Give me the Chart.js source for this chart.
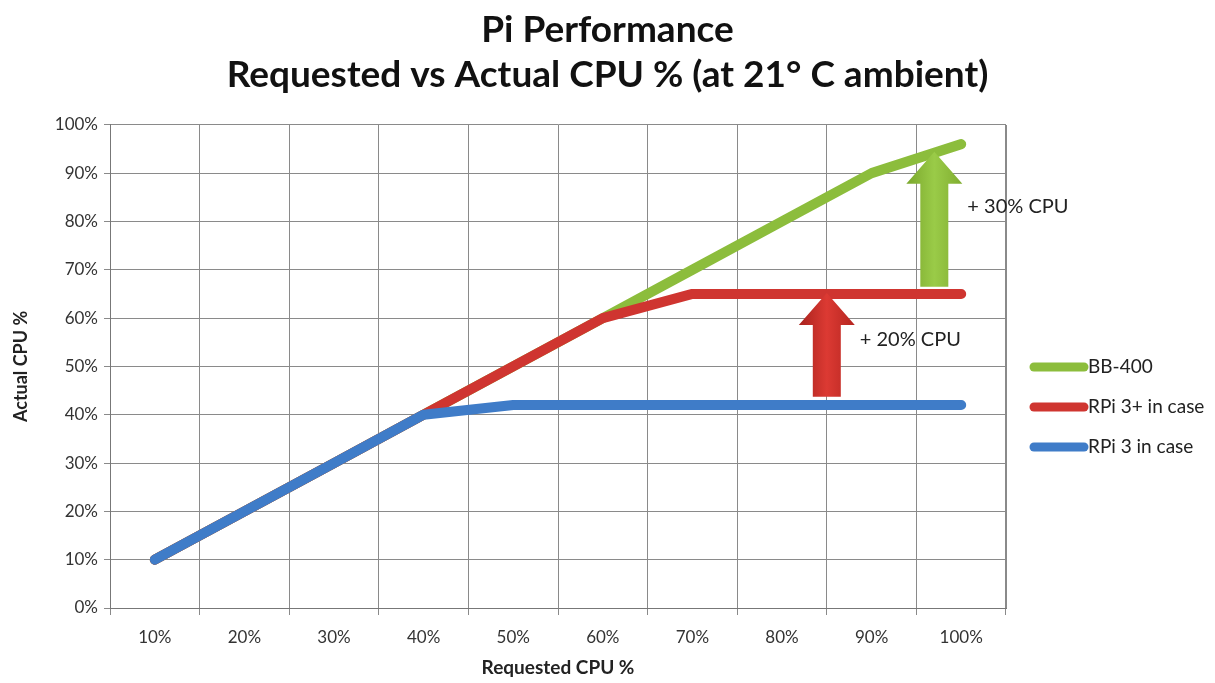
<!DOCTYPE html>
<html>
<head>
<meta charset="utf-8">
<script src="https://cdn.jsdelivr.net/npm/chart.js@4.4.1/dist/chart.umd.min.js"></script>
<style>
  html, body { margin: 0; padding: 0; background: #fff; }
  #wrap { width: 1215px; height: 683px; }
</style>
</head>
<body>
<div id="wrap"><canvas id="chart" width="1215" height="683"></canvas></div>
<script>
// данные графика
const categories = ['10%', '20%', '30%', '40%', '50%', '60%', '70%', '80%', '90%', '100%'];
const bb400 = [10, 20, 30, 40, 50, 60, 70, 80, 90, 96];
const rpi3plus = [10, 20, 30, 40, 50, 60, 65, 65, 65, 65];
const rpi3 = [10, 20, 30, 40, 42, 42, 42, 42, 42, 42];
const seriesNames = ['BB-400', 'RPi 3+ in case', 'RPi 3 in case'];

// стрелки-аннотации (индекс категории, от, до, подпись)
const arrowAt = [7.5, 8.7];
const arrowFrom = [43.7, 66.5];
const arrowTo = [65.2, 94.4];
const arrowLabelY = [55.5, 83];
const arrowText = ['+ 20% CPU', '+ 30% CPU'];

const green = '#8cbd3c';
const red = '#cf3530';
const blue = '#3f7cc8';
const arrowColors = [['#a8221d', '#dc3a33', '#b52520'], ['#7aa72c', '#9acb48', '#80ad30']];
const font = 'Lato, "Open Sans", sans-serif';

// рисуем стрелки и подписи
const arrowsPlugin = {
  id: 'arrows',
  afterDatasetsDraw(chart) {
    const ctx = chart.ctx;
    const x = chart.scales.x;
    const y = chart.scales.y;
    arrowAt.forEach((pos, i) => {
      const cx = x.getPixelForValue(pos);
      const bottom = y.getPixelForValue(arrowFrom[i]);
      const tip = y.getPixelForValue(arrowTo[i]);
      const shaft = 14, head = 28, headH = 32;
      const g = ctx.createLinearGradient(cx - head, 0, cx + head, 0);
      g.addColorStop(0, arrowColors[i][0]);
      g.addColorStop(0.5, arrowColors[i][1]);
      g.addColorStop(1, arrowColors[i][2]);
      ctx.save();
      ctx.fillStyle = g;
      ctx.beginPath();
      ctx.moveTo(cx - shaft, bottom);
      ctx.lineTo(cx - shaft, tip + headH);
      ctx.lineTo(cx - head, tip + headH);
      ctx.lineTo(cx, tip);
      ctx.lineTo(cx + head, tip + headH);
      ctx.lineTo(cx + shaft, tip + headH);
      ctx.lineTo(cx + shaft, bottom);
      ctx.closePath();
      ctx.fill();
      ctx.fillStyle = '#222';
      ctx.font = '20px ' + font;
      ctx.textBaseline = 'middle';
      ctx.textAlign = 'left';
      ctx.fillText(arrowText[i], cx + 33, y.getPixelForValue(arrowLabelY[i]));
      ctx.restore();
    });
  }
};

// легенда справа, как в Excel
const legendPlugin = {
  id: 'sideLegend',
  afterDraw(chart) {
    const ctx = chart.ctx;
    const left = chart.chartArea.right + 28;
    ctx.save();
    ctx.font = '19px ' + font;
    ctx.textBaseline = 'middle';
    chart.data.datasets.forEach((ds, i) => {
      const yy = 367 + i * 40;
      ctx.strokeStyle = ds.borderColor;
      ctx.lineWidth = 9;
      ctx.lineCap = 'round';
      ctx.beginPath();
      ctx.moveTo(left, yy);
      ctx.lineTo(left + 50, yy);
      ctx.stroke();
      ctx.fillStyle = '#222';
      ctx.fillText(ds.label, left + 54, yy);
    });
    ctx.restore();
  }
};

const lineStyle = {
  borderWidth: 10,
  pointRadius: 0,
  borderCapStyle: 'round',
  borderJoinStyle: 'round',
  tension: 0,
  fill: false
};

new Chart(document.getElementById('chart'), {
  type: 'line',
  data: {
    labels: categories,
    datasets: [
      Object.assign({ label: seriesNames[0], data: bb400, borderColor: green, backgroundColor: green, order: 2 }, lineStyle),
      Object.assign({ label: seriesNames[1], data: rpi3plus, borderColor: red, backgroundColor: red, order: 1 }, lineStyle),
      Object.assign({ label: seriesNames[2], data: rpi3, borderColor: blue, backgroundColor: blue, order: 0 }, lineStyle)
    ]
  },
  options: {
    responsive: false,
    animation: false,
    events: [],
    plugins: {
      legend: { display: false },
      tooltip: { enabled: false },
      title: {
        display: true,
        text: ['Pi Performance', 'Requested vs Actual CPU % (at 21° C ambient)'],
        color: '#111',
        font: { family: font, size: 37, weight: 'bold', lineHeight: 1.2 },
        padding: { top: 8, bottom: 28 }
      }
    },
    scales: {
      x: {
        type: 'category',
        offset: true,
        grid: { offset: true, color: '#8a8a8a', lineWidth: 1, tickLength: 7 },
        border: { color: '#777', width: 1 },
        ticks: { color: '#333', font: { family: font, size: 17 }, padding: 12, maxRotation: 0 },
        title: { display: true, text: 'Requested CPU %', color: '#222', font: { family: font, size: 19, weight: 'bold' }, padding: { top: 4 } },
        afterFit(scale) { scale.height = 75; }
      },
      xg: {
        type: 'linear',
        position: 'top',
        min: -0.5,
        max: 9.5,
        ticks: { display: false, stepSize: 1 },
        grid: { color: '#8a8a8a', lineWidth: 1, drawTicks: false },
        border: { display: false },
        afterFit(scale) { scale.height = 0; }
      },
      y: {
        min: 0,
        max: 100,
        ticks: { stepSize: 10, color: '#333', font: { family: font, size: 17 }, padding: 6, callback: v => v + '%' },
        grid: { color: '#8a8a8a', lineWidth: 1, tickLength: 6 },
        border: { color: '#777', width: 1 },
        title: { display: true, text: 'Actual CPU %', color: '#222', font: { family: font, size: 18, weight: 'bold' }, padding: { top: 10, bottom: 4 } },
        afterFit(scale) { scale.width = 110; }
      },
      // место под легенду справа
      yr: {
        position: 'right',
        ticks: { display: false },
        grid: { display: false },
        border: { display: false },
        afterFit(scale) { scale.width = 209; }
      }
    }
  },
  plugins: [arrowsPlugin, legendPlugin]
});
</script>
</body>
</html>
